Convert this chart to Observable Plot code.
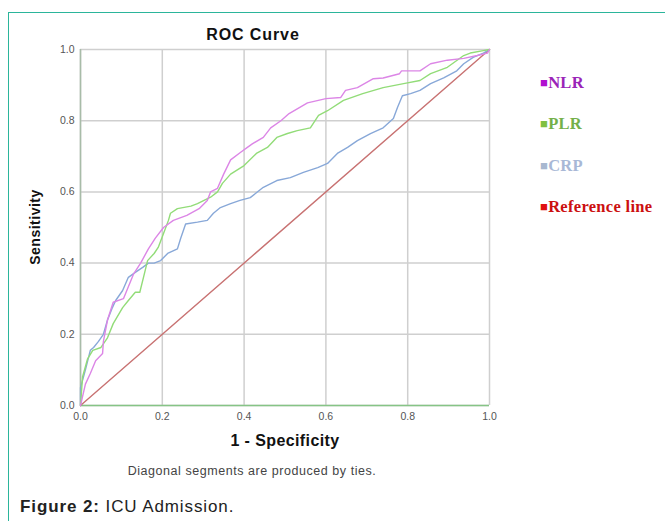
<!DOCTYPE html>
<html>
<head>
<meta charset="utf-8">
<script src="https://cdn.jsdelivr.net/npm/d3@7"></script>
<script src="https://cdn.jsdelivr.net/npm/@observablehq/plot@0.6"></script>
<style>
  html, body { margin: 0; padding: 0; background: #fff; }
  #page { position: relative; width: 665px; height: 521px; overflow: hidden; font-family: "Liberation Sans", Arial, sans-serif; }
  #frame { position: absolute; left: 8px; top: 12px; width: 670px; height: 520px; border-left: 1.5px solid #2bb59b; border-top: 1.5px solid #2bb59b; }
  #chart { position: absolute; left: 0; top: 0; }
  .t { position: absolute; white-space: nowrap; }
  .leg { position: absolute; left: 540px; font-family: "Liberation Serif", "Times New Roman", serif; font-weight: bold; font-size: 16.5px; letter-spacing: 0.3px; white-space: nowrap; transform: translateY(-50%); }
  .leg .sq { font-size: 13px; vertical-align: 1px; margin-right: 0px; }
</style>
</head>
<body>
<div id="page">
  <div id="frame"></div>
  <div id="chart"></div>
  <div class="t" style="left:153px;width:200px;text-align:center;top:26px;font-weight:bold;font-size:16px;letter-spacing:0.9px;color:#111;">ROC Curve</div>
  <div class="t" style="left:35px;top:227px;transform:translate(-50%,-50%) rotate(-90deg);font-weight:bold;font-size:14px;letter-spacing:0.5px;color:#111;">Sensitivity</div>
  <div class="t" style="left:185px;width:200px;text-align:center;top:432px;font-weight:bold;font-size:16px;letter-spacing:0.4px;color:#111;">1 - Specificity</div>
  <div class="t" style="left:52px;width:400px;text-align:center;top:464px;font-size:12.5px;letter-spacing:0.55px;color:#444;">Diagonal segments are produced by ties.</div>
  <div class="t" style="left:20px;top:497px;font-size:17px;letter-spacing:0.9px;color:#222;"><b>Figure 2:</b> ICU Admission.</div>
  <div id="legend"></div>
</div>
<script>
// ---- data ----
const nlrFpr = [0,0.012,0.024,0.037,0.054,0.056,0.066,0.08,0.105,0.13,0.147,0.166,0.183,0.203,0.227,0.26,0.29,0.31,0.318,0.335,0.35,0.367,0.39,0.408,0.42,0.447,0.465,0.49,0.51,0.555,0.6,0.636,0.648,0.677,0.716,0.74,0.78,0.785,0.83,0.856,0.897,0.937,0.97,0.995,1];
const nlrTpr = [0,0.06,0.09,0.126,0.146,0.18,0.24,0.29,0.30,0.37,0.40,0.44,0.47,0.50,0.52,0.534,0.553,0.576,0.60,0.61,0.65,0.69,0.71,0.725,0.735,0.753,0.78,0.80,0.82,0.85,0.862,0.865,0.885,0.893,0.918,0.92,0.932,0.94,0.94,0.96,0.97,0.975,0.983,0.99,1];

const plrFpr = [0,0.005,0.017,0.03,0.05,0.066,0.08,0.103,0.117,0.134,0.145,0.154,0.164,0.18,0.19,0.203,0.215,0.22,0.237,0.27,0.286,0.318,0.335,0.347,0.367,0.4,0.43,0.457,0.48,0.506,0.53,0.562,0.582,0.604,0.643,0.69,0.74,0.79,0.83,0.856,0.897,0.937,0.953,0.985,1];
const plrTpr = [0,0.08,0.13,0.155,0.163,0.19,0.23,0.275,0.295,0.318,0.318,0.36,0.407,0.427,0.444,0.483,0.52,0.54,0.553,0.56,0.567,0.585,0.60,0.624,0.65,0.674,0.708,0.725,0.753,0.764,0.772,0.78,0.815,0.828,0.857,0.876,0.893,0.904,0.913,0.932,0.95,0.983,0.99,0.997,1];

const crpFpr = [0,0,0.012,0.024,0.032,0.044,0.056,0.066,0.078,0.086,0.103,0.117,0.134,0.152,0.166,0.18,0.196,0.213,0.237,0.245,0.257,0.286,0.31,0.325,0.342,0.367,0.39,0.415,0.447,0.48,0.513,0.545,0.58,0.604,0.628,0.653,0.677,0.709,0.74,0.765,0.775,0.787,0.807,0.83,0.856,0.888,0.92,0.937,0.96,0.985,1];
const crpTpr = [0,0.05,0.1,0.155,0.163,0.18,0.2,0.24,0.275,0.295,0.323,0.36,0.374,0.388,0.4,0.4,0.407,0.427,0.44,0.47,0.51,0.515,0.52,0.54,0.556,0.567,0.576,0.584,0.613,0.632,0.64,0.655,0.668,0.68,0.708,0.725,0.744,0.764,0.78,0.806,0.837,0.87,0.876,0.885,0.904,0.92,0.94,0.96,0.978,0.99,1];

const refX = [0, 1];
const refY = [0, 1];

const ticks = [0, 0.2, 0.4, 0.6, 0.8, 1.0];

const seriesNames = ["NLR", "PLR", "CRP", "Reference line"];
const lineColors = ["#dc86e6", "#92dc78", "#88a8d8", "#c87272"];
const legendSquare = ["#b010d0", "#80c040", "#a8b8d0", "#e01010"];
const legendText = ["#9a24b8", "#74b04a", "#a8b8d6", "#cc1010"];

// ---- build tables ----
const toPts = (xs, ys) => xs.map((x, i) => ({x, y: ys[i]}));
const nlr = toPts(nlrFpr, nlrTpr);
const plr = toPts(plrFpr, plrTpr);
const crp = toPts(crpFpr, crpTpr);
const ref = toPts(refX, refY);

const chart = Plot.plot({
  width: 500,
  height: 440,
  marginLeft: 80,
  marginRight: 11,
  marginTop: 49,
  marginBottom: 35,
  style: {fontFamily: "'Liberation Sans', Arial, sans-serif", fontSize: "10.5px", color: "#555", background: "transparent"},
  x: {domain: [0, 1], ticks, tickFormat: d3.format(".1f"), label: null},
  y: {domain: [0, 1], ticks, tickFormat: d3.format(".1f"), label: null},
  marks: [
    Plot.gridX(ticks, {stroke: "#cfcfcf", strokeOpacity: 1, strokeWidth: 1.5}),
    Plot.gridY(ticks, {stroke: "#cfcfcf", strokeOpacity: 1, strokeWidth: 1.5}),
    Plot.ruleX([0], {stroke: "#a8bca8", strokeWidth: 1.5}),
    Plot.ruleY([0], {stroke: "#86c486", strokeWidth: 1.5}),
    Plot.axisX({ticks, tickFormat: d3.format(".1f"), tickSize: 0, tickPadding: 7, fontSize: 10.5, fill: "#555", label: null}),
    Plot.axisY({ticks, tickFormat: d3.format(".1f"), tickSize: 0, tickPadding: 6, fontSize: 10.5, fill: "#555", label: null}),
    Plot.line(ref, {x: "x", y: "y", stroke: lineColors[3], strokeWidth: 1.4}),
    Plot.line(crp, {x: "x", y: "y", stroke: lineColors[2], strokeWidth: 1.4}),
    Plot.line(plr, {x: "x", y: "y", stroke: lineColors[1], strokeWidth: 1.4}),
    Plot.line(nlr, {x: "x", y: "y", stroke: lineColors[0], strokeWidth: 1.4})
  ]
});
document.getElementById("chart").appendChild(chart);

// ---- legend ----
const legendY = [83, 124, 166, 207];
const legend = document.getElementById("legend");
seriesNames.forEach((name, i) => {
  const d = document.createElement("div");
  d.className = "leg";
  d.style.top = legendY[i] + "px";
  d.style.color = legendText[i];
  d.innerHTML = `<span class="sq" style="color:${legendSquare[i]}">&#9632;</span>${name}`;
  legend.appendChild(d);
});
</script>
</body>
</html>
